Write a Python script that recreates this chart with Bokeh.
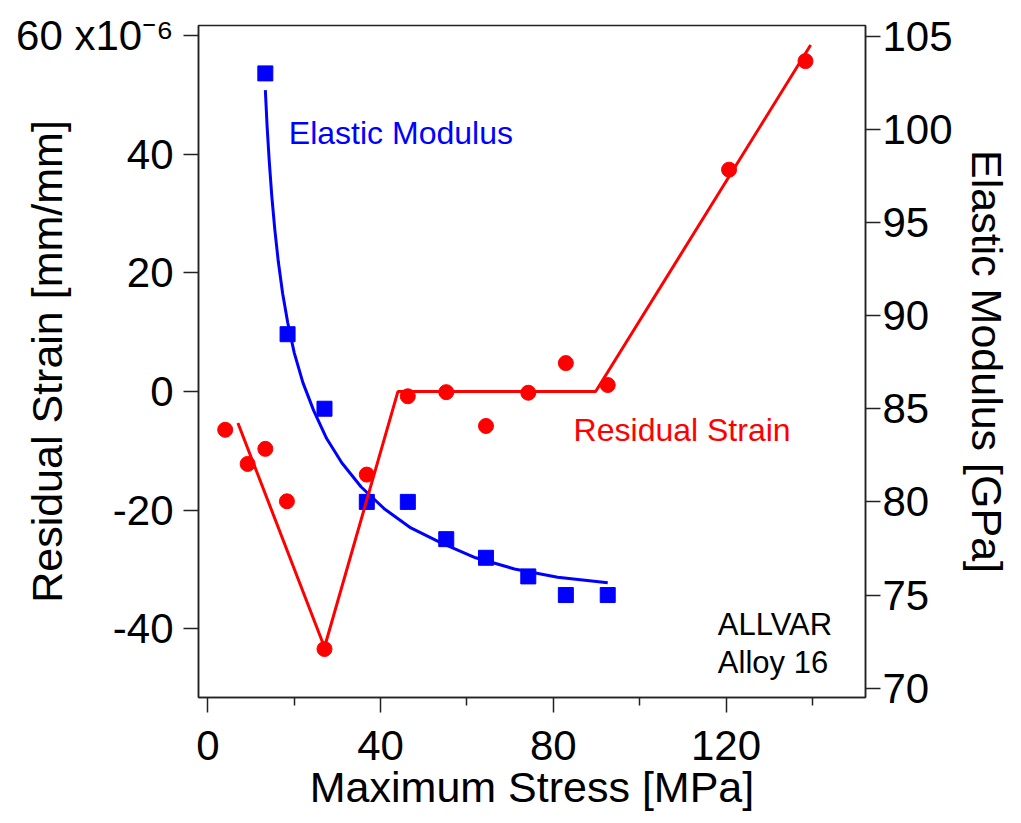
from bokeh.plotting import figure
from bokeh.models import Range1d, LinearAxis, FixedTicker, Label
from bokeh.embed import file_html
from bokeh.resources import INLINE

# ---- data ----
strain_stress = [4.0, 9.2, 13.3, 18.3, 27.0, 36.8, 46.3, 55.2, 64.4, 74.2, 82.9, 92.6, 120.7, 138.4]
residual_strain = [-6.45, -12.2, -9.66, -18.5, -43.4, -14.0, -0.8, -0.1, -5.8, -0.2, 4.8, 1.1, 37.4, 55.7]

modulus_stress = [13.3, 18.45, 27.0, 36.8, 46.3, 55.2, 64.4, 74.2, 82.9, 92.6]
elastic_modulus = [103.0, 89.0, 85.0, 80.0, 80.0, 78.0, 77.0, 76.0, 75.0, 75.0]

strain_fit_x = [6.95, 27.0, 44.0, 89.8, 139.6]
strain_fit_y = [-5.3, -43.1, 0.0, 0.0, 58.4]

modulus_fit_x = [13.3, 13.7, 14.2, 14.8, 15.5, 16.3, 17.3, 18.5, 20.0, 22.0, 24.5, 27.5, 31.0, 35.5,
                 41.0, 47.0, 54.0, 62.0, 71.0, 81.0, 92.6]
modulus_fit_y = [102.1, 100.2, 98.3, 96.4, 94.6, 92.9, 91.2, 89.6, 88.0, 86.4, 84.9, 83.4, 82.1, 80.8,
                 79.6, 78.6, 77.8, 77.0, 76.4, 75.95, 75.66]

x_ticks = [0, 40, 80, 120]
x_minor = [20, 60, 100, 140]
left_ticks = [-40, -20, 0, 20, 40, 60]
left_tick_text = {-40: "-40", -20: "-20", 60: "60 x10\u207b\u2076"}
right_ticks = [70, 75, 80, 85, 90, 95, 100, 105]

FONT = "Liberation Sans"
AX = "#222222"

p = figure(frame_width=667, frame_height=672,
           x_range=Range1d(-2.18, 152.3), y_range=Range1d(-51.57, 61.7),
           output_backend="svg", toolbar_location=None,
           min_border_left=198, min_border_top=25, min_border_right=140, min_border_bottom=110)
p.extra_y_ranges = {"mod": Range1d(69.5, 105.57)}
p.xgrid.visible = False
p.ygrid.visible = False
p.outline_line_color = AX
p.outline_line_width = 1.5
p.background_fill_color = "white"
p.border_fill_color = "white"

right = LinearAxis(y_range_name="mod")
p.add_layout(right, "right")

for ax in [p.xaxis[0], p.yaxis[0], right]:
    ax.axis_line_color = AX
    ax.axis_line_width = 1.5
    ax.major_tick_line_color = AX
    ax.major_tick_line_width = 1.5
    ax.major_tick_out = 15
    ax.major_tick_in = 0
    ax.minor_tick_line_color = None
    ax.major_label_text_font = FONT
    ax.major_label_text_font_size = "42px"
    ax.major_label_text_color = "black"
    ax.axis_label_text_font = FONT
    ax.axis_label_text_font_size = "43px"
    ax.axis_label_text_font_style = "normal"
    ax.axis_label_text_color = "black"

p.xaxis[0].ticker = FixedTicker(ticks=x_ticks, minor_ticks=x_minor)
p.xaxis[0].minor_tick_line_color = AX
p.xaxis[0].minor_tick_line_width = 1.5
p.xaxis[0].minor_tick_out = 8
p.xaxis[0].minor_tick_in = 0
p.xaxis[0].major_label_standoff = 18
p.xaxis[0].axis_label = "Maximum Stress [MPa]"
p.xaxis[0].axis_label_standoff = 0

p.yaxis[0].ticker = FixedTicker(ticks=left_ticks)
p.yaxis[0].major_label_overrides = left_tick_text
p.yaxis[0].major_label_standoff = 10
p.yaxis[0].axis_label = "Residual Strain [mm/mm]"
p.yaxis[0].axis_label_standoff = -58

right.ticker = FixedTicker(ticks=right_ticks)
right.major_label_standoff = 2
right.axis_label = "Elastic Modulus [GPa]"
right.axis_label_standoff = 7

# curves and markers
p.line(modulus_fit_x, modulus_fit_y, y_range_name="mod", line_color="#0000FF", line_width=3)
p.scatter(modulus_stress, elastic_modulus, y_range_name="mod", marker="square", size=15,
          fill_color="#0000FF", line_color="#0000FF")
p.line(strain_fit_x, strain_fit_y, line_color="#FF0000", line_width=3)
p.scatter(strain_stress, residual_strain, marker="circle", size=15,
          fill_color="#FF0000", line_color="#FF0000")

# annotations
p.add_layout(Label(x=18.75, y=43.6, text="Elastic Modulus", text_font=FONT,
                   text_font_size="32px", text_color="#0000FF", text_baseline="alphabetic"))
p.add_layout(Label(x=84.7, y=-6.4, text="Residual Strain", text_font=FONT,
                   text_font_size="32px", text_color="#FF0000", text_baseline="alphabetic"))
p.add_layout(Label(x=118.1, y=-39.25, text="ALLVAR", text_font=FONT,
                   text_font_size="31px", text_color="black", text_baseline="alphabetic"))
p.add_layout(Label(x=118.1, y=-45.75, text="Alloy 16", text_font=FONT,
                   text_font_size="31px", text_color="black", text_baseline="alphabetic"))

open("out.html", "w").write(file_html(p, INLINE))
